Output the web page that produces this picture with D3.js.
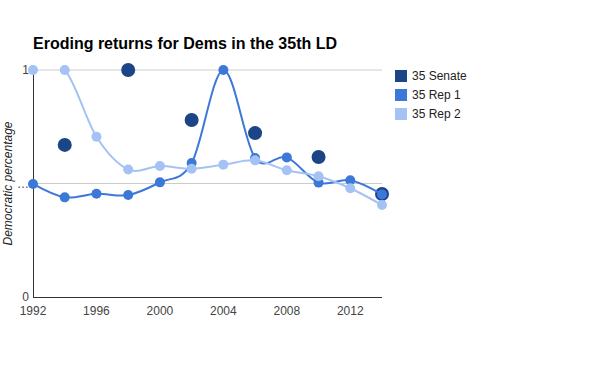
<!DOCTYPE html>
<meta charset="utf-8">
<title>Eroding returns</title>
<style>
body { margin: 0; background: #fff; }
text { font-family: Arial, "Liberation Sans", sans-serif; }
</style>
<body>
<script src="https://d3js.org/d3.v7.min.js"></script>
<script>

var years = [1992, 1994, 1996, 1998, 2000, 2002, 2004, 2006, 2008, 2010, 2012, 2014];
var senateYears = [1994, 1998, 2002, 2006, 2010, 2014];
var senate = [0.670, 1.0, 0.780, 0.722, 0.617, 0.454];
var rep1 = [0.498, 0.439, 0.455, 0.449, 0.505, 0.590, 1.0, 0.612, 0.615, 0.504, 0.514, 0.452];
var rep2 = [1.0, 1.0, 0.706, 0.562, 0.577, 0.565, 0.583, 0.602, 0.558, 0.532, 0.479, 0.405];
var xTicks = [1992, 1996, 2000, 2004, 2008, 2012];
var yTicks = [0, 0.5, 1];
var yTickLabels = ["0", "\u2026", "1"];
var seriesNames = ["35 Senate", "35 Rep 1", "35 Rep 2"];
var colors = ["#1c4587", "#3c78d8", "#a4c2f4"];

var w = 600, h = 371;

var svg = d3.select("body").append("svg")
    .attr("width", w)
    .attr("height", h);

var x = d3.scaleLinear().domain([1992, 2014]).range([33, 382]);
var y = d3.scaleLinear().domain([0, 1]).range([297, 70]);

svg.append("clipPath")
    .attr("id", "area")
  .append("rect")
    .attr("x", x(1992))
    .attr("y", y(1))
    .attr("width", x(2014) - x(1992) + 2)
    .attr("height", y(0) - y(1));

svg.append("text")
    .attr("x", 33)
    .attr("y", 49)
    .style("font-size", "16px")
    .style("font-weight", "bold")
    .text("Eroding returns for Dems in the 35th LD");

// gridlines
svg.selectAll(".grid")
    .data(yTicks.slice(1))
  .enter().append("line")
    .attr("x1", x(1992))
    .attr("x2", x(2014))
    .attr("y1", function(d) { return y(d); })
    .attr("y2", function(d) { return y(d); })
    .style("stroke", "#ccc")
    .style("stroke-width", 1);

svg.selectAll(".ylab")
    .data(yTicks)
  .enter().append("text")
    .attr("x", 29)
    .attr("y", function(d) { return y(d) + 4; })
    .attr("text-anchor", "end")
    .style("font-size", "12px")
    .style("fill", "#444")
    .text(function(d, i) { return yTickLabels[i]; });

svg.selectAll(".xlab")
    .data(xTicks)
  .enter().append("text")
    .attr("x", function(d) { return x(d); })
    .attr("y", 315)
    .attr("text-anchor", "middle")
    .style("font-size", "12px")
    .style("fill", "#444")
    .text(function(d) { return d; });

// axes lines
svg.append("line")
    .attr("x1", x(1992) + 0.5).attr("x2", x(1992) + 0.5)
    .attr("y1", y(1)).attr("y2", y(0) + 1)
    .style("stroke", "#333");
svg.append("line")
    .attr("x1", x(1992)).attr("x2", x(2014))
    .attr("y1", y(0) + 0.5).attr("y2", y(0) + 0.5)
    .style("stroke", "#333");

svg.append("text")
    .attr("transform", "translate(12," + y(0.5) + ") rotate(-90)")
    .attr("text-anchor", "middle")
    .style("font-size", "12px")
    .style("font-style", "italic")
    .style("fill", "#222")
    .text("Democratic percentage");

// senate points
svg.selectAll(".sen")
    .data(senateYears)
  .enter().append("circle")
    .attr("cx", function(d) { return x(d); })
    .attr("cy", function(d, i) { return y(senate[i]); })
    .attr("r", 7)
    .style("fill", colors[0]);

var line = d3.line()
    .x(function(d, i) { return x(years[i]); })
    .y(function(d) { return y(d); })
    .curve(d3.curveCardinal.tension(0));

[rep1, rep2].forEach(function(s, k) {
  svg.append("path")
      .attr("d", line(s))
      .attr("clip-path", "url(#area)")
      .style("fill", "none")
      .style("stroke", colors[k + 1])
      .style("stroke-width", 2);
  svg.selectAll(".p" + k)
      .data(s)
    .enter().append("circle")
      .attr("cx", function(d, i) { return x(years[i]); })
      .attr("cy", function(d) { return y(d); })
      .attr("r", 5)
      .style("fill", colors[k + 1]);
});

// legend
var lg = svg.selectAll(".lg")
    .data(seriesNames)
  .enter().append("g")
    .attr("transform", function(d, i) { return "translate(395," + (70 + i * 19) + ")"; });
lg.append("rect")
    .attr("width", 12)
    .attr("height", 12)
    .style("fill", function(d, i) { return colors[i]; });
lg.append("text")
    .attr("x", 17)
    .attr("y", 10)
    .style("font-size", "12px")
    .style("fill", "#222")
    .text(function(d) { return d; });

</script>
